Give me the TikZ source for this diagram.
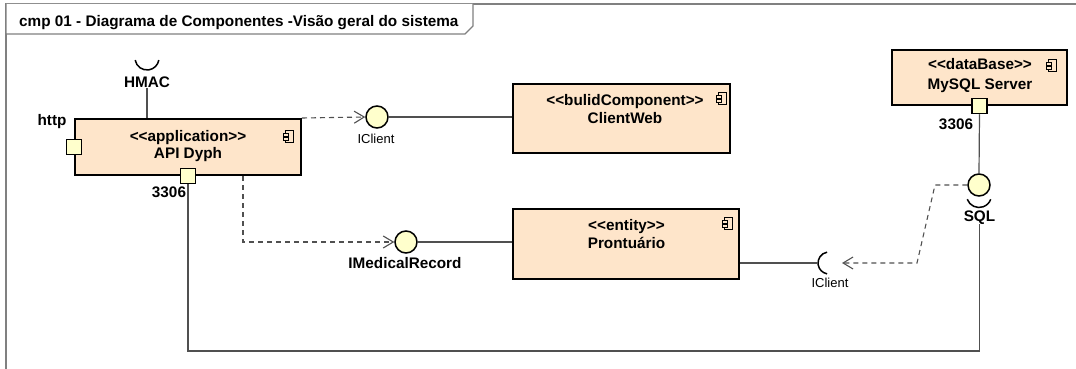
\documentclass[tikz,border=0pt]{standalone}
\usepackage{fontspec}
\setmainfont{Liberation Sans}
\usetikzlibrary{arrows.meta}

\definecolor{compfill}{RGB}{254,229,202}
\definecolor{portfill}{RGB}{255,255,204}
\definecolor{wire}{RGB}{80,80,80}
\definecolor{framegray}{RGB}{128,128,128}

% guillemet-free stereotype brackets
\newcommand{\stereo}[1]{<{}<#1>{}>}

\tikzset{
  comp/.style={rectangle, draw=black, line width=2pt, fill=compfill, inner sep=0pt},
  port/.style={rectangle, draw=black, line width=1.5pt, fill=portfill, minimum size=15pt, inner sep=0pt},
  ball/.style={circle, draw=black, line width=1.5pt, fill=portfill, minimum size=22pt, inner sep=0pt},
  boldtxt/.style={font=\fontsize{15.3}{18}\selectfont\bfseries, inner sep=0pt, anchor=base},
  plaintxt/.style={font=\fontsize{13}{15}\selectfont, inner sep=0pt, anchor=base},
  wireline/.style={draw=wire, line width=1.2pt},
  socket/.style={draw=black, line width=1.5pt},
  dep/.style={draw=wire, line width=1.1pt, dash pattern=on 5pt off 4pt,
    -{Straight Barb[length=10pt,width=12pt,line width=1.1pt]}},
  compicon/.pic={
    \draw[line width=0.8pt, fill=compfill] (-4,-6) rectangle (4,6);
    \draw[line width=0.8pt, fill=compfill] (-6,-3) rectangle (-1,0) (-6,1) rectangle (-1,4);
  }
}

\begin{document}
\begin{tikzpicture}[x=1pt, y=-1pt]
\useasboundingbox (0,0) rectangle (1076,369);

% diagram frame and its title tab
\draw[framegray, line width=1.5pt] (6,369) -- (6,4) -- (1076,4);
\draw[framegray, line width=1.2pt, fill=white] (6,4) -- (6,34) -- (465,34) -- (473,26) -- (473,4);
\node[boldtxt, anchor=base west] (title) at (19,27) {cmp 01 - Diagrama de Componentes -Visão geral do sistema};

% components
\node[comp, minimum width=226pt, minimum height=56pt] (api) at (188,147) {};
\node[boldtxt] (apiSt) at (188,141) {\stereo{application}};
\node[boldtxt] (apiNm) at (188,158) {API Dyph};
\pic at (289,136) {compicon};

\node[comp, minimum width=217pt, minimum height=69pt] (cweb) at (621.5,118.5) {};
\node[boldtxt] (cwebSt) at (625,105) {\stereo{bulidComponent}};
\node[boldtxt] (cwebNm) at (625,123) {ClientWeb};
\pic at (722,98) {compicon};

\node[comp, minimum width=226pt, minimum height=70pt] (pront) at (626,244) {};
\node[boldtxt] (prontSt) at (626.5,230) {\stereo{entity}};
\node[boldtxt] (prontNm) at (626.5,248) {Prontuário};
\pic at (728,223) {compicon};

\node[comp, minimum width=175pt, minimum height=55pt] (db) at (979.5,77.5) {};
\node[boldtxt] (dbSt) at (980,70) {\stereo{dataBase}};
\node[boldtxt] (dbNm) at (980,89) {MySQL Server};
\pic at (1052,65) {compicon};

% ports
\node[port] (httpPort) at (api.west) {};
\node[boldtxt] (httpLbl) at (52,125) {http};
\node[port] (apiPort) at (api.south) {};
\node[boldtxt] (apiPortLbl) at (169,197) {3306};
\node[port] (dbPort) at (db.south) {};
\node[boldtxt] (dbPortLbl) at (956,129) {3306};

% HMAC required interface
\node[boldtxt] (hmacLbl) at (147,88) {HMAC};
\draw[socket] (147,58) ++(190:12pt) arc[start angle=190, end angle=350, radius=12pt];
\draw[wireline] (hmacLbl.south) -- (hmacLbl.south |- api.north);

% provided interfaces
\node[ball] (iclientA) at (377,117) {};
\node[plaintxt] (iclientALbl) at (376,143) {IClient};
\draw[wireline] (iclientA.east) -- (iclientA.east -| cweb.west);

\node[ball] (imr) at (406,242) {};
\node[boldtxt] (imrLbl) at (405,268) {IMedicalRecord};
\draw[wireline] (imr.east) -- (imr.east -| pront.west);

\node[ball] (sqlBall) at (979,185) {};
\draw[socket] (979,195) ++(200:12.5pt) arc[start angle=200, end angle=340, radius=12.5pt];
\node[boldtxt] (sqlLbl) at (979.5,221) {SQL};
\draw[wireline] (dbPort.south) -- (sqlBall.north);

% IClient required by Prontuario
\coordinate (sockB) at (818,263);
\draw[socket] (829,263) ++(100:11pt) arc[start angle=100, end angle=260, radius=11pt];
\node[plaintxt] (iclientBLbl) at (830,287) {IClient};
\draw[wireline] (sockB -| pront.east) -- (sockB);

% dependencies
\draw[dep] (api.north east) -- (iclientA.west);
\coordinate (bendA) at (243,242);
\draw[dep] (bendA |- api.south) -- (bendA) -- (imr.west);
\coordinate (bendB) at (935,185);
\coordinate (bendC) at (917,263);
\coordinate (sockTip) at (842,263);
\draw[dep] (sqlBall.west) -- (bendB) -- (bendC) -- (sockTip);

% link between the two 3306 ports
\coordinate (rail) at (0,351);
\draw[wireline] (apiPort.south) -- (apiPort.south |- rail) -| (sqlLbl.south);
\end{tikzpicture}
\end{document}
